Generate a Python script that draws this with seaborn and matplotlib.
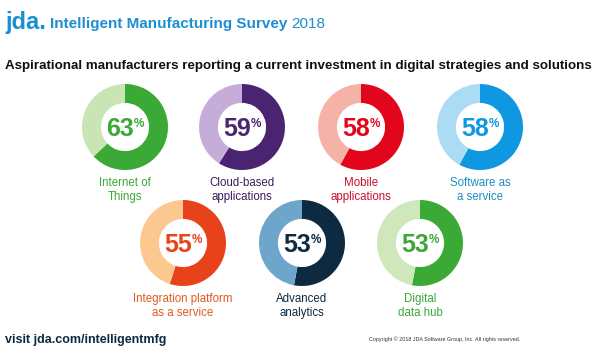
import matplotlib
matplotlib.use("Agg")
import matplotlib.pyplot as plt
import seaborn as sns

# survey data
labels = ["Internet of\nThings", "Cloud-based\napplications", "Mobile\napplications",
          "Software as\na service", "Integration platform\nas a service",
          "Advanced\nanalytics", "Digital\ndata hub"]
percents = [63, 59, 58, 58, 55, 53, 53]
dark_colors = ["#3aa935", "#4b2471", "#e2061c", "#0f97e2", "#e8421b", "#0e2a40", "#3aa935"]
light_colors = ["#c9e5b3", "#c5acd9", "#f4b3a6", "#abdcf4", "#fcc88f", "#6ea6cb", "#cfe7bb"]
text_colors = ["#3aa935", "#3b1d5e", "#c8102e", "#1a8fc2", "#e05a20", "#0e2a40", "#3aa935"]

sns.set_style("white")
plt.rcParams["font.family"] = ["Liberation Sans", "DejaVu Sans"]

W, H = 600, 360
fig = plt.figure(figsize=(6, 3.6), dpi=100)
fig.patch.set_facecolor("white")


def fit(t, width):
    # shrink a text so it spans the given pixel width
    fig.canvas.draw()
    w = t.get_window_extent().width
    t.set_fontsize(t.get_fontsize() * width / w)
    fig.canvas.draw()
    return t.get_window_extent()


# donut centres in pixels (x, y from top)
centers = [(125, 127), (242, 127), (361, 127), (480, 127),
           (183, 243), (302, 243), (420, 243)]
R = 43

for (cx, cy), lab, p, dc, lc, tc in zip(centers, labels, percents, dark_colors,
                                        light_colors, text_colors):
    ax = fig.add_axes([(cx - R) / W, (H - cy - R) / H, 2 * R / W, 2 * R / H])
    ax.pie([p, 100 - p], colors=[dc, lc], startangle=90, counterclock=False,
           radius=1, wedgeprops=dict(width=0.44, edgecolor="none"))
    ax.set_xlim(-1, 1)
    ax.set_ylim(-1, 1)
    ax.set_aspect("equal")
    ax.axis("off")
    ax.text(0.2, -0.2, str(p), color=dc, fontsize=18, fontweight="bold",
            ha="right", va="baseline")
    ax.text(0.2, 0.0, "%", color=dc, fontsize=8.5, fontweight="bold",
            ha="left", va="baseline")
    fig.text(cx / W, 1 - (cy + 50) / H, lab, color=tc, fontsize=8.3,
             ha="center", va="top", linespacing=1.2)

# header
fig.text(5 / W, 1 - 29 / H, "jda.", color="#1b8fd2", fontsize=17,
         fontweight="bold", ha="left", va="baseline")
t = fig.text(50 / W, 1 - 28 / H, "Intelligent Manufacturing Survey", color="#1b8fd2",
             fontsize=14, fontweight="bold", ha="left", va="baseline")
bb = fit(t, 238)
fig.text((bb.x1 + 4) / W, 1 - 28 / H, "2018", color="#1b8fd2", fontsize=t.get_fontsize(),
         ha="left", va="baseline")
s = fig.text(5 / W, 1 - 69 / H, "Aspirational manufacturers reporting a current investment "
             "in digital strategies and solutions", color="#111111", fontsize=11,
             fontweight="bold", ha="left", va="baseline")
fit(s, 589)

# footer
v = fig.text(5 / W, 1 - 343 / H, "visit jda.com/intelligentmfg", color="#0e2a40",
             fontsize=12, fontweight="bold", ha="left", va="baseline")
fit(v, 160)
c = fig.text(520 / W, 1 - 341 / H, "Copyright \u00a9 2018 JDA Software Group, Inc. All rights reserved.",
             color="#333333", fontsize=4.3, ha="right", va="baseline")
fit(c, 150)

fig.savefig("out.png", dpi=100, facecolor="white")
